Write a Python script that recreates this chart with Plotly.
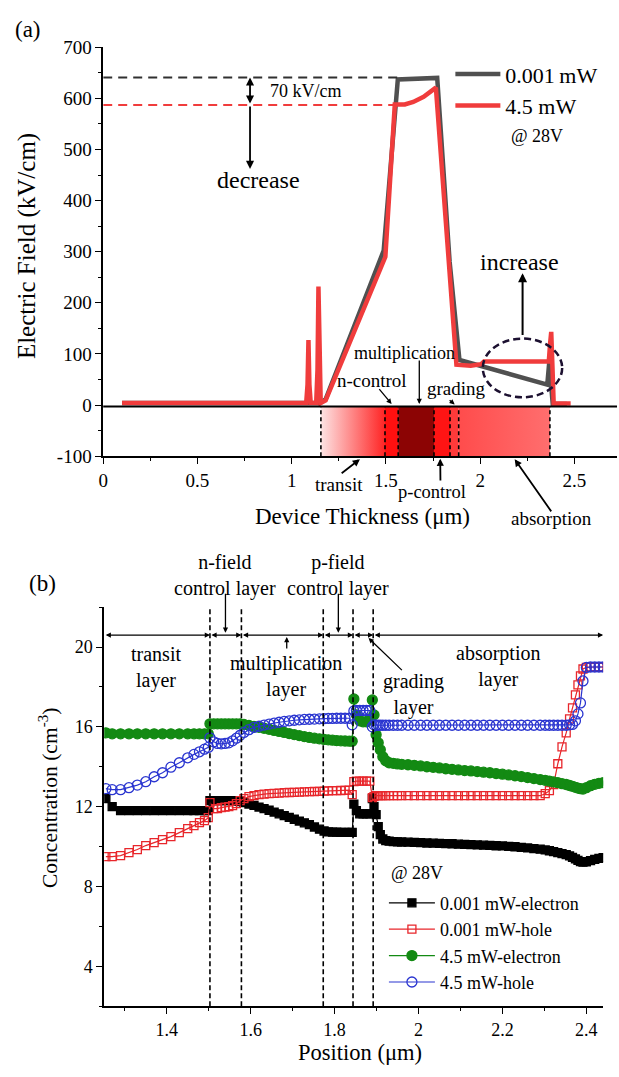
import plotly.graph_objects as go

W, H = 619, 1077
FONT = "Liberation Serif, Times New Roman, serif"

# ---------------- Panel (a): electric field ----------------
field_low_x = [0.10, 1.15, 1.18, 1.488, 1.563, 1.772, 1.838, 1.89, 2.356, 2.366, 2.385, 2.46]
field_low_y = [4, 4, 11, 302, 637, 640, 280, 88, 40, 82, 2, 2]
field_high_x = [0.10, 1.077, 1.084, 1.089, 1.094, 1.101, 1.13, 1.137, 1.142, 1.147, 1.154, 1.18,
                1.497, 1.547, 1.60, 1.645, 1.70, 1.765, 1.874, 1.95, 2.005, 2.02, 2.364, 2.371,
                2.377, 2.383, 2.39, 2.48]
field_high_y = [4, 4, 40, 127, 40, 4, 4, 70, 232, 70, 4, 9,
                290, 588, 588, 593, 603, 621, 79, 77, 80, 85, 85, 120,
                143, 80, 3, 3]
peak_low, peak_high = 641, 587

layer_edges_a = [1.155, 1.495, 1.565, 1.755, 1.84, 1.886, 2.37]
layer_colors_a = [("#fde4e4", "#ff2424"), ("#ff1010", "#ff1010"), ("#8c0404", "#8c0404"),
                  ("#ff1414", "#ff1414"), ("#ff3a3a", "#ff3a3a"), ("#ff4c4c", "#ff6e6e")]

xticks_a = [0, 0.5, 1, 1.5, 2, 2.5]
xticklabels_a = ["0", "0.5", "1", "1.5", "2", "2.5"]
yticks_a = [-100, 0, 100, 200, 300, 400, 500, 600, 700]
yticklabels_a = ["-100", "0", "100", "200", "300", "400", "500", "600", "700"]

# ---------------- Panel (b): carrier concentration ----------------
position = [
    1.255, 1.27, 1.29, 1.31, 1.33, 1.35, 1.37, 1.39, 1.41, 1.43, 1.45, 1.465, 1.478, 1.49, 1.499,
    1.503, 1.512, 1.521, 1.53, 1.539, 1.548, 1.557, 1.566, 1.575,
    1.584, 1.596, 1.608, 1.62, 1.632, 1.644, 1.656, 1.668, 1.68, 1.692, 1.704, 1.716,
    1.728, 1.74, 1.752, 1.764, 1.775, 1.785, 1.795, 1.805, 1.815, 1.825, 1.835, 1.842,
    1.846, 1.852, 1.86, 1.868, 1.876, 1.884, 1.89,
    1.894, 1.899, 1.904, 1.909, 1.915, 1.922, 1.93, 1.94, 1.95, 1.96,
    1.975, 1.99, 2.005, 2.02, 2.035, 2.05, 2.065, 2.08, 2.095, 2.11,
    2.125, 2.14, 2.155, 2.17, 2.185, 2.2, 2.215, 2.23, 2.245, 2.26,
    2.275, 2.29, 2.302, 2.312, 2.322, 2.332, 2.342, 2.352, 2.36, 2.367,
    2.374, 2.38, 2.386, 2.392, 2.4, 2.41, 2.42, 2.43, 2.44]

electron_low = [
    12.4, 12.0, 11.8, 11.8, 11.8, 11.8, 11.8, 11.8, 11.8, 11.8, 11.8, 11.8, 11.8, 11.8, 11.8,
    12.3, 12.3, 12.3, 12.3, 12.3, 12.3, 12.3, 12.28, 12.25,
    12.2, 12.13, 12.06, 11.98, 11.9, 11.82, 11.73, 11.64, 11.55, 11.46, 11.37, 11.28,
    11.19, 11.1, 10.98, 10.87, 10.78, 10.74, 10.72, 10.72, 10.71, 10.71, 10.71, 10.71,
    12.13, 11.8, 11.64, 11.64, 11.64, 11.64, 12.4,
    12.0, 11.6, 11.0, 10.6, 10.38, 10.3, 10.27, 10.25, 10.24, 10.23,
    10.22, 10.21, 10.2, 10.18, 10.17, 10.16, 10.15, 10.14, 10.12, 10.11,
    10.1, 10.08, 10.07, 10.06, 10.04, 10.03, 10.01, 9.99, 9.96, 9.93,
    9.9, 9.87, 9.83, 9.79, 9.75, 9.7, 9.65, 9.6, 9.53, 9.46,
    9.38, 9.31, 9.25, 9.22, 9.24, 9.3, 9.36, 9.41, 9.45]

hole_low = [
    9.5, 9.5, 9.55, 9.7, 9.85, 10.05, 10.2, 10.35, 10.5, 10.7, 10.9, 11.05, 11.2, 11.3, 11.45,
    12.2, 11.9, 11.9, 11.95, 11.98, 12.0, 12.05, 12.15, 12.3,
    12.4, 12.5, 12.55, 12.6, 12.63, 12.65, 12.67, 12.68, 12.7, 12.71, 12.72, 12.73,
    12.74, 12.75, 12.76, 12.77, 12.78, 12.79, 12.8, 12.8, 12.81, 12.82, 12.83, 12.6,
    13.25, 13.28, 13.28, 13.28, 13.28, 13.28, 12.45,
    12.5, 12.55, 12.55, 12.55, 12.55, 12.55, 12.55, 12.55, 12.55, 12.55,
    12.55, 12.55, 12.55, 12.55, 12.55, 12.55, 12.55, 12.55, 12.55, 12.55,
    12.55, 12.55, 12.55, 12.55, 12.55, 12.55, 12.55, 12.55, 12.55, 12.55,
    12.55, 12.55, 12.65, 12.8, 13.1, 14.15, 15.0, 15.7, 16.4, 16.95,
    17.6, 18.1, 18.55, 18.9, 18.98, 19.0, 19.0, 19.0, 19.0]

electron_high = [
    15.7, 15.65, 15.65, 15.65, 15.65, 15.65, 15.65, 15.65, 15.65, 15.65, 15.65, 15.65, 15.65, 15.65, 15.65,
    16.15, 16.15, 16.15, 16.15, 16.15, 16.15, 16.15, 16.15, 16.15,
    16.12, 16.07, 16.02, 15.98, 15.93, 15.88, 15.82, 15.77, 15.72, 15.66, 15.61, 15.56,
    15.51, 15.47, 15.43, 15.4, 15.37, 15.35, 15.33, 15.31, 15.3, 15.29, 15.28, 15.28,
    17.4, 16.6, 16.3, 16.25, 16.25, 16.4, 17.35,
    16.6, 15.6, 15.2, 14.85, 14.5, 14.3, 14.2, 14.17, 14.14, 14.12,
    14.1, 14.07, 14.04, 14.0, 13.97, 13.94, 13.9, 13.87, 13.84, 13.81,
    13.79, 13.76, 13.73, 13.7, 13.66, 13.63, 13.59, 13.55, 13.51, 13.46,
    13.41, 13.36, 13.32, 13.28, 13.24, 13.2, 13.15, 13.11, 13.06, 13.02,
    12.97, 12.93, 12.9, 12.88, 12.95, 13.05, 13.12, 13.17, 13.2]

hole_high = [
    12.9, 12.85, 12.85, 12.95, 13.08, 13.25, 13.5, 13.7, 13.98, 14.2, 14.45, 14.62, 14.75, 14.88, 14.97,
    15.45, 15.25, 15.17, 15.15, 15.17, 15.2, 15.3, 15.43, 15.58,
    15.72, 15.86, 15.97, 16.03, 16.09, 16.14, 16.19, 16.23, 16.27, 16.3, 16.33, 16.35,
    16.37, 16.38, 16.39, 16.4, 16.41, 16.42, 16.42, 16.43, 16.43, 16.43, 16.43, 16.1,
    16.8, 16.82, 16.82, 16.82, 16.82, 16.82, 16.0,
    16.1, 16.08, 16.08, 16.08, 16.08, 16.08, 16.08, 16.08, 16.08, 16.08,
    16.08, 16.08, 16.08, 16.08, 16.08, 16.08, 16.08, 16.08, 16.08, 16.08,
    16.08, 16.08, 16.08, 16.08, 16.08, 16.08, 16.08, 16.08, 16.08, 16.08,
    16.08, 16.08, 16.08, 16.08, 16.08, 16.08, 16.08, 16.08, 16.1, 16.12,
    16.3, 16.65, 17.2, 18.3, 18.98, 19.0, 19.0, 19.0, 19.0]

layer_edges_b = [1.251, 1.503, 1.578, 1.773, 1.844, 1.892, 2.44]
xticks_b = [1.4, 1.6, 1.8, 2.0, 2.2, 2.4]
xticklabels_b = ["1.4", "1.6", "1.8", "2", "2.2", "2.4"]
yticks_b = [4, 8, 12, 16, 20]
yticklabels_b = ["4", "8", "12", "16", "20"]

# ---------------- Layout geometry (pixel boxes) ----------------
A_L, A_R, A_T, A_B = 99, 617, 38, 455
B_L, B_R, B_T, B_B = 100, 603, 609, 1016
XR_A = [0, 2.726]
YR_A = [-100, 700]
XR_B = [1.251, 2.440]
YR_B = [2, 22]


def px(x):
    return x / W


def py(y):
    return 1 - y / H


def a_px(x, y):
    """panel (a) data -> pixel position in the page"""
    return (A_L + (x - XR_A[0]) / (XR_A[1] - XR_A[0]) * (A_R - A_L),
            A_B - (y - YR_A[0]) / (YR_A[1] - YR_A[0]) * (A_B - A_T))


def b_px(x, y):
    return (B_L + (x - XR_B[0]) / (XR_B[1] - XR_B[0]) * (B_R - B_L),
            B_B - (y - YR_B[0]) / (YR_B[1] - YR_B[0]) * (B_B - B_T))


fig = go.Figure()

# colour bands of the device layers (panel a)
for i, (c0, c1) in enumerate(layer_colors_a):
    xa, xb = layer_edges_a[i], layer_edges_a[i + 1]
    fig.add_trace(go.Scatter(
        x=[xa, xb, xb, xa, xa], y=[-100, -100, -3, -3, -100], mode="lines",
        line=dict(width=0), fill="toself",
        fillgradient=dict(type="horizontal", colorscale=[[0, c0], [1, c1]]),
        hoverinfo="skip", showlegend=False, xaxis="x", yaxis="y"))

fig.add_trace(go.Scatter(x=field_low_x, y=field_low_y, mode="lines", name="0.001\u2009mW",
                         line=dict(color="#505050", width=4.5), xaxis="x", yaxis="y",
                         legend="legend"))
fig.add_trace(go.Scatter(x=field_high_x, y=field_high_y, mode="lines", name="4.5 mW",
                         line=dict(color="#f03c3c", width=4.5), xaxis="x", yaxis="y",
                         legend="legend"))

# panel b traces
series_b = [
    ("0.001 mW-electron", electron_low, "square", 8, "black"),
    ("0.001 mW-hole", hole_low, "square-open", 8, "#e8262b"),
    ("4.5 mW-electron", electron_high, "circle", 10, "#138a13"),
    ("4.5 mW-hole", hole_high, "circle-open", 10, "#2a35d0"),
]
for name, vals, sym, size, col in series_b:
    fig.add_trace(go.Scatter(
        x=position, y=vals, mode="lines+markers", name=name,
        line=dict(color=col, width=1.2),
        marker=dict(symbol=sym, size=size, color=col, line=dict(color=col, width=1.3)),
        xaxis="x2", yaxis="y2", legend="legend2"))

shapes = []
shapes.append(dict(type="line", xref="x domain", yref="y", x0=0, x1=1, y0=-3, y1=-3,
                   line=dict(color="black", width=2)))
for e in layer_edges_a:
    shapes.append(dict(type="line", xref="x", yref="y", x0=e, x1=e, y0=-100, y1=-3,
                       line=dict(color="black", width=1.6, dash="4px,3px")))
shapes.append(dict(type="line", xref="x", yref="y", x0=0, x1=1.563, y0=peak_low, y1=peak_low,
                   line=dict(color="#303030", width=2, dash="9px,6px")))
shapes.append(dict(type="line", xref="x", yref="y", x0=0, x1=1.547, y0=peak_high, y1=peak_high,
                   line=dict(color="#f03c3c", width=2, dash="9px,6px")))
shapes.append(dict(type="circle", xref="x", yref="y", x0=2.014, x1=2.435, y0=15, y1=130,
                   line=dict(color="#1c1030", width=2.5, dash="7px,4px")))
for e in layer_edges_b[1:-1]:
    shapes.append(dict(type="line", xref="x2", yref="y2 domain", x0=e, x1=e, y0=0, y1=1,
                       line=dict(color="black", width=1.6, dash="5px,3px")))

ann = []


def arrow(x, y, ax, ay, xr="x", yr="y", both=False, w=1.6, size=1.0):
    d = dict(x=x, y=y, ax=ax, ay=ay, xref=xr, yref=yr, axref=xr, ayref=yr, text="",
             showarrow=True, arrowhead=2, arrowsize=size, arrowwidth=w, arrowcolor="black",
             standoff=0, startstandoff=0)
    if both:
        d.update(arrowside="end+start", startarrowhead=2, startarrowsize=size)
    ann.append(d)


def parrow(tip, tail, w=1.6, size=0.8):
    """arrow given by page pixel positions of its tip and tail"""
    ann.append(dict(x=px(tip[0]), y=py(tip[1]), xref="paper", yref="paper",
                    ax=tail[0] - tip[0], ay=tail[1] - tip[1], axref="pixel", ayref="pixel",
                    text="", showarrow=True, arrowhead=2, arrowsize=size, arrowwidth=w,
                    arrowcolor="black", standoff=0, startstandoff=0))


def text(t, x, y, size, xr="x", yr="y", angle=0, xanchor="center"):
    ann.append(dict(x=x, y=y, xref=xr, yref=yr, text=t, showarrow=False, textangle=angle,
                    xanchor=xanchor, yanchor="middle",
                    font=dict(family=FONT, size=size, color="black")))


def ptext(t, pos, size, angle=0, xanchor="center"):
    text(t, px(pos[0]), py(pos[1]), size, xr="paper", yr="paper", angle=angle, xanchor=xanchor)


# panel a annotations
arrow(0.779, peak_low, 0.779, peak_high, both=True, w=1.8, size=0.9)
arrow(0.779, 462, 0.779, peak_high, w=1.8, size=0.9)
text("70 kV/cm", 1.074, 615, 18)
text("decrease", 0.826, 441, 24)
text("increase", 2.21, 280, 24)
arrow(2.225, 258, 2.225, 134, w=2, size=0.9)
text("multiplication", 1.60, 101, 18)
arrow(1.677, 2, 1.677, 90, w=1.3, size=0.8)
text("n-control", 1.426, 47, 19)
arrow(1.53, 2, 1.458, 34, w=1.3, size=0.8)
text("grading", 1.876, 32, 19)
arrow(1.865, 1, 1.83, 12, w=1.3, size=0.8)
ptext("transit", a_px(1.253, -155), 19)
parrow(a_px(1.362, -106), a_px(1.258, -135), w=1.8)
ptext("p-control", (430, 492), 18.5)
parrow(a_px(1.788, -105), (439, 481), w=1.8)
ptext("absorption", a_px(2.376, -222), 19)
parrow(a_px(2.183, -106), a_px(2.381, -209), w=1.8)
ptext("@ 28V", (508, 128), 18, xanchor="left")

# panel b annotations
for i in range(len(layer_edges_b) - 1):
    arrow(layer_edges_b[i + 1], 20.6, layer_edges_b[i], 20.6, xr="x2", yr="y2", both=True,
          w=1.3, size=0.8)
ptext("n-field<br>control layer", b_px(1.54, 23.6), 20)
ptext("p-field<br>control layer", b_px(1.809, 23.6), 20)
arrow(1.54, 20.72, 1.54, 22.75, xr="x2", yr="y2", w=1.3, size=0.8)
arrow(1.809, 20.72, 1.809, 22.75, xr="x2", yr="y2", w=1.3, size=0.8)
text("transit<br>layer", 1.374, 18.99, 20, xr="x2", yr="y2")
text("multiplication<br>layer", 1.684, 18.52, 20, xr="x2", yr="y2")
arrow(1.686, 20.5, 1.686, 19.85, xr="x2", yr="y2", w=1.3, size=0.8)
text("grading<br>layer", 1.988, 17.64, 20, xr="x2", yr="y2")
arrow(1.881, 20.45, 1.964, 18.77, xr="x2", yr="y2", w=1.3, size=0.8)
text("absorption<br>layer", 2.19, 19.0, 20, xr="x2", yr="y2")
ptext("@ 28V", (387, 880), 18, xanchor="left")

# panel labels and axis titles
ptext("(a)", (23, 20), 23)
ptext("(b)", (38, 585), 23)
ptext("Electric Field (kV/cm)", (22, 241), 25, angle=-90)
ptext("Device Thickness (\u03bcm)", (360, 517), 23)
ptext("Concentration (cm<sup>-3</sup>)", (44, 804), 21.5, angle=-90)
ptext("Position (\u03bcm)", (358, 1063), 22.5)


def axis(domain, rng, tickvals, ticktext, minor_vals, anchor, fsize, side=None, overlay=None,
         inside=False):
    d = dict(domain=domain, range=rng, anchor=anchor, showline=True, linecolor="black",
             linewidth=1.5, ticks="inside" if inside else "outside", ticklen=6, tickwidth=1.3,
             tickcolor="black", showgrid=False, zeroline=False, tickmode="array",
             tickvals=tickvals, ticktext=ticktext,
             tickfont=dict(family=FONT, size=fsize, color="black"),
             showticklabels=not inside,
             minor=dict(tickmode="array", tickvals=minor_vals,
                        ticks="inside" if inside else "outside", ticklen=3.5, tickwidth=1.1,
                        tickcolor="black", showgrid=False))
    if side:
        d["side"] = side
    if overlay:
        d["overlaying"] = overlay
    return d


minor_x_a = [0.25, 0.75, 1.25, 1.75, 2.25]
minor_y_a = [-50, 50, 150, 250, 350, 450, 550, 650]
minor_x_b = [1.3, 1.5, 1.7, 1.9, 2.1, 2.3]
minor_y_b = [2, 6, 10, 14, 18, 22]

dom_xa = [px(A_L), px(A_R)]
dom_ya = [py(A_B), py(A_T)]
dom_xb = [px(B_L), px(B_R)]
dom_yb = [py(B_B), py(B_T)]

fig.update_layout(
    width=W, height=H, margin=dict(l=0, r=0, t=0, b=0),
    plot_bgcolor="white", paper_bgcolor="white", hovermode=False,
    xaxis=axis(dom_xa, XR_A, xticks_a, xticklabels_a, minor_x_a, "y", 19),
    yaxis=axis(dom_ya, YR_A, yticks_a, yticklabels_a, minor_y_a, "x", 19),
    xaxis3=axis(dom_xa, XR_A, xticks_a, xticklabels_a, minor_x_a, "y", 19, side="top",
                overlay="x", inside=True),
    yaxis3=axis(dom_ya, YR_A, yticks_a, yticklabels_a, minor_y_a, "x", 19, side="right",
                overlay="y", inside=True),
    xaxis2=axis(dom_xb, XR_B, xticks_b, xticklabels_b, minor_x_b, "y2", 18),
    yaxis2=axis(dom_yb, YR_B, yticks_b, yticklabels_b, minor_y_b, "x2", 18),
    xaxis4=axis(dom_xb, XR_B, xticks_b, xticklabels_b, minor_x_b, "y2", 18, side="top",
                overlay="x2", inside=True),
    yaxis4=axis(dom_yb, YR_B, yticks_b, yticklabels_b, minor_y_b, "x2", 18, side="right",
                overlay="y2", inside=True),
    legend=dict(x=px(449), y=py(44), xanchor="left", yanchor="top", bgcolor="rgba(0,0,0,0)",
                font=dict(family=FONT, size=22, color="black"), itemwidth=45,
                tracegroupgap=0),
    legend2=dict(x=px(382), y=py(892), xanchor="left", yanchor="top",
                 bgcolor="rgba(0,0,0,0)", font=dict(family=FONT, size=18, color="black"),
                 itemwidth=46, tracegroupgap=0),
    shapes=shapes, annotations=ann, showlegend=True,
)

fig.write_html("out.html", config={"displayModeBar": False},
               post_script="document.body.style.margin='0px';")
